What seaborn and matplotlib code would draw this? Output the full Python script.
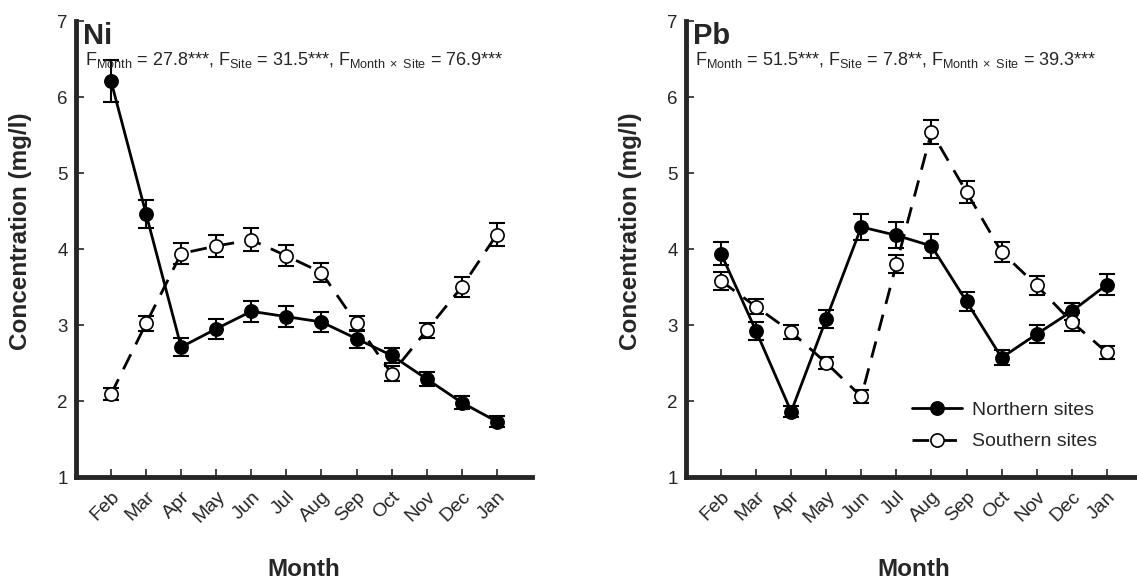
import numpy as np
import pandas as pd
import matplotlib
matplotlib.use("Agg")
import matplotlib.pyplot as plt
import seaborn as sns

months = ["Feb", "Mar", "Apr", "May", "Jun", "Jul", "Aug", "Sep", "Oct", "Nov", "Dec", "Jan"]

# Ni (mg/l)
ni_north = [6.21, 4.46, 2.71, 2.95, 3.18, 3.11, 3.04, 2.82, 2.60, 2.29, 1.98, 1.73]
ni_north_se = [0.28, 0.18, 0.12, 0.13, 0.14, 0.14, 0.13, 0.12, 0.10, 0.09, 0.08, 0.07]
ni_south = [2.09, 3.02, 3.94, 4.04, 4.12, 3.91, 3.69, 3.02, 2.36, 2.93, 3.50, 4.19]
ni_south_se = [0.08, 0.10, 0.14, 0.15, 0.15, 0.14, 0.13, 0.10, 0.10, 0.10, 0.13, 0.15]

# Pb (mg/l)
pb_north = [3.94, 2.92, 1.86, 3.08, 4.29, 4.18, 4.04, 3.31, 2.57, 2.88, 3.18, 3.53]
pb_north_se = [0.15, 0.12, 0.07, 0.12, 0.17, 0.17, 0.16, 0.13, 0.10, 0.12, 0.11, 0.14]
pb_south = [3.58, 3.24, 2.91, 2.50, 2.06, 3.80, 5.54, 4.75, 3.96, 3.52, 3.04, 2.64]
pb_south_se = [0.12, 0.10, 0.09, 0.08, 0.08, 0.12, 0.16, 0.15, 0.13, 0.12, 0.12, 0.09]

panels = [
    ("Ni", ni_north, ni_north_se, ni_south, ni_south_se,
     r"F$_{\mathrm{Month}}$ = 27.8***, F$_{\mathrm{Site}}$ = 31.5***, F$_{\mathrm{Month\ \times\ Site}}$ = 76.9***"),
    ("Pb", pb_north, pb_north_se, pb_south, pb_south_se,
     r"F$_{\mathrm{Month}}$ = 51.5***, F$_{\mathrm{Site}}$ = 7.8**, F$_{\mathrm{Month\ \times\ Site}}$ = 39.3***"),
]

sns.set_style("ticks")
plt.rcParams["font.family"] = ["Liberation Sans", "DejaVu Sans"]
plt.rcParams["mathtext.fontset"] = "custom"
plt.rcParams["mathtext.rm"] = "Liberation Sans"
plt.rcParams["mathtext.it"] = "Liberation Sans:italic"
plt.rcParams["mathtext.bf"] = "Liberation Sans:bold"

fig = plt.figure(figsize=(11.37, 5.82), dpi=100)
axes = [fig.add_axes([0.0668, 0.1804, 0.401, 0.7835]),
        fig.add_axes([0.6033, 0.1804, 0.401, 0.7835])]

x = np.arange(len(months))

for ax, (metal, north, north_se, south, south_se, ftxt) in zip(axes, panels):
    df_n = pd.DataFrame({"pos": x, "value": north})
    df_s = pd.DataFrame({"pos": x, "value": south})

    ax.errorbar(x, north, yerr=north_se, fmt="none", ecolor="black",
                elinewidth=1.5, capsize=6, capthick=1.5, zorder=2)
    ax.errorbar(x, south, yerr=south_se, fmt="none", ecolor="black",
                elinewidth=1.5, capsize=6, capthick=1.5, zorder=2)

    sns.lineplot(data=df_n, x="pos", y="value", ax=ax, color="black",
                 linewidth=2, marker="o", markersize=9.5, markerfacecolor="black",
                 markeredgecolor="black", markeredgewidth=1.2,
                 label="Northern sites", zorder=3)
    sns.lineplot(data=df_s, x="pos", y="value", ax=ax, color="black",
                 linewidth=2, linestyle=(0, (6, 4)), marker="o", markersize=9.5,
                 markerfacecolor="white", markeredgecolor="black",
                 markeredgewidth=1.2, label="Southern sites", zorder=4)

    ax.set_xlim(-1, 12)
    ax.set_ylim(1, 7)
    ax.set_yticks([1, 2, 3, 4, 5, 6, 7])
    ax.set_xticks(x)
    ax.set_xticklabels(months, rotation=45, ha="right", rotation_mode="anchor")
    ax.tick_params(direction="in", length=6, width=1.2, labelsize=13.5, pad=6)
    ax.tick_params(axis="x", pad=8, labelsize=14)
    sns.despine(ax=ax)
    ax.spines["left"].set_linewidth(3.5)
    ax.spines["bottom"].set_linewidth(3.5)

    ax.set_xlabel("Month", fontsize=17.5, fontweight="bold")
    ax.set_ylabel("Concentration (mg/l)", fontsize=17.5, fontweight="bold")
    ax.xaxis.set_label_coords(0.5, -0.178)
    ax.yaxis.set_label_coords(-0.096, 0.54)

    ax.text(0.015, 0.997, metal, transform=ax.transAxes, fontsize=21,
            fontweight="bold", va="top", ha="left")
    ax.text(0.02, 0.914, ftxt, transform=ax.transAxes, fontsize=13,
            va="center", ha="left")

    if metal == "Pb":
        ax.legend(loc="lower right", bbox_to_anchor=(0.94, 0.02), frameon=False,
                  fontsize=14, handlelength=2.6, handletextpad=0.5, labelspacing=0.7)
    else:
        ax.get_legend().remove()

fig.savefig("out.png", dpi=100)
